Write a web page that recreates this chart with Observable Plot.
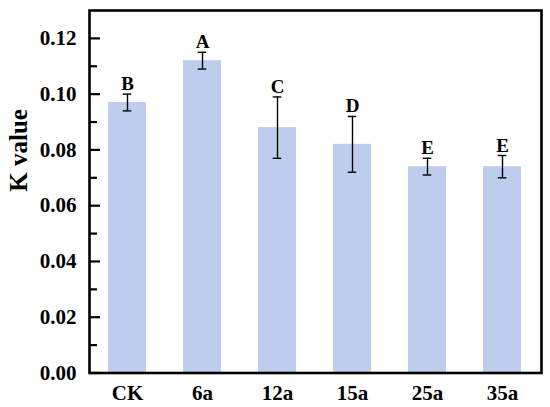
<!DOCTYPE html>
<html>
<head>
<meta charset="utf-8">
<script src="https://cdn.jsdelivr.net/npm/d3@7"></script>
<script src="https://cdn.jsdelivr.net/npm/@observablehq/plot@0.6"></script>
<style>
  html, body { margin: 0; padding: 0; background: #fff; }
  svg { display: block; }
  #chart svg, #chart svg text {
    font-family: "Liberation Serif", "Times New Roman", Times, serif !important;
    font-weight: bold !important;
  }
</style>
</head>
<body>
<div id="chart"></div>
<script>
const categories = ["CK", "6a", "12a", "15a", "25a", "35a"];
const means = [0.097, 0.112, 0.088, 0.082, 0.074, 0.074];
const errors = [0.003, 0.003, 0.011, 0.010, 0.003, 0.004];
const letters = ["B", "A", "C", "D", "E", "E"];
const yTicks = [0, 0.02, 0.04, 0.06, 0.08, 0.10, 0.12];
const yMinorTicks = [0.01, 0.03, 0.05, 0.07, 0.09, 0.11];

const data = categories.map((c, i) => ({
  cat: c, mean: means[i], err: errors[i], letter: letters[i]
}));

const W = 550, H = 407;
const mL = 89, mR = 9, mT = 10, mB = 34.5;
const pInner = 0.49, pOuter = 0.245;
const step = (W - mL - mR) / (categories.length - pInner + 2 * pOuter);
const bw = step * (1 - pInner);
const capW = 9;
const capInset = (bw - capW) / 2;

const chart = Plot.plot({
  width: W,
  height: H,
  marginLeft: mL,
  marginRight: mR,
  marginTop: mT,
  marginBottom: mB,
  style: { fontSize: "21px", background: "#fff", color: "#000" },
  x: { domain: categories, paddingInner: pInner, paddingOuter: pOuter, align: 0.5 },
  y: { domain: [0, 0.13] },
  marks: [
    Plot.barY(data, { x: "cat", y: "mean", fill: "#bdcdee" }),
    Plot.ruleX(data, { x: "cat", y1: d => d.mean - d.err, y2: d => d.mean + d.err, stroke: "#000", strokeWidth: 1.4 }),
    Plot.tickY(data, { x: "cat", y: d => d.mean + d.err, stroke: "#000", strokeWidth: 1.4, insetLeft: capInset, insetRight: capInset }),
    Plot.tickY(data, { x: "cat", y: d => d.mean - d.err, stroke: "#000", strokeWidth: 1.4, insetLeft: capInset, insetRight: capInset }),
    Plot.text(data, { x: "cat", y: d => d.mean + d.err, text: "letter", lineAnchor: "bottom", dy: -4, fontSize: 19, fill: "#000" }),
    Plot.axisY({ ticks: yTicks, tickSize: 0, tickPadding: 13, tickFormat: d => d.toFixed(2), fontSize: 21, label: null }),
    Plot.axisY({ ticks: yTicks, tickSize: -11, tickFormat: () => "", strokeWidth: 2.2, label: null }),
    Plot.axisY({ ticks: yMinorTicks, tickSize: -8, tickFormat: () => "", strokeWidth: 2.2, label: null }),
    Plot.axisX({ tickSize: 0, tickPadding: 12, fontSize: 21, label: null }),
    Plot.text(["K value"], { frameAnchor: "left", dx: -71, rotate: -90, text: d => d, fontSize: 25, fill: "#000" }),
    Plot.frame({ stroke: "#000", strokeWidth: 2.6 })
  ]
});

document.getElementById("chart").appendChild(chart);
</script>
</body>
</html>
